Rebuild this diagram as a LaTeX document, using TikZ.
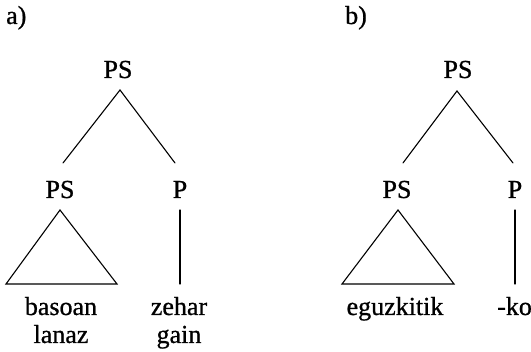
\documentclass[tikz,border=0pt]{standalone}
\usepackage{fontspec}
\setmainfont{Liberation Serif}
\newfontfamily\treefont[FakeBold=0.8]{Liberation Serif}
\begin{document}
\begin{tikzpicture}[x=1pt,y=-1pt,
  lbl/.style={inner sep=0pt,anchor=base,font=\treefont\fontsize{26}{28}\selectfont},
  edge/.style={line width=1.1pt,line cap=round}]
\useasboundingbox (0,0) rectangle (531,352);
% panel labels
\node[lbl,anchor=base west] (la) at (6,24) {a)};
\node[lbl,anchor=base west] (lb) at (345,24) {b)};
% tree a
\node[lbl] (a0) at (118,78) {PS};
\node[lbl] (a1) at (60,198) {PS};
\node[lbl] (a2) at (180,198) {P};
\coordinate (a0s) at (120,90);
\coordinate (a1n) at (63,163);
\coordinate (a2n) at (175,163);
\draw[edge] (a1n) -- (a0s) -- (a2n);
\coordinate (t1a) at (60,210);
\coordinate (t1l) at (6,284);
\coordinate (t1r) at (117,284);
\draw[edge,line join=miter] (t1a) -- (t1l) -- (t1r) -- cycle;
\coordinate (v1t) at (180,210);
\coordinate (v1b) at (180,284);
\draw[edge] (v1t) -- (v1b);
\node[lbl] (w1) at (61,315) {basoan};
\node[lbl] (w2) at (61,343) {lanaz};
\node[lbl] (w3) at (179,315) {zehar};
\node[lbl] (w4) at (179,343) {gain};
% tree b
\node[lbl] (b0) at (458,78) {PS};
\node[lbl] (b1) at (397,198) {PS};
\node[lbl] (b2) at (515,198) {P};
\coordinate (b0s) at (457,91);
\coordinate (b1n) at (403,163);
\coordinate (b2n) at (513,163);
\draw[edge] (b1n) -- (b0s) -- (b2n);
\coordinate (t2a) at (398,210);
\coordinate (t2l) at (342,284);
\coordinate (t2r) at (454,284);
\draw[edge,line join=miter] (t2a) -- (t2l) -- (t2r) -- cycle;
\coordinate (v2t) at (515,210);
\coordinate (v2b) at (515,284);
\draw[edge] (v2t) -- (v2b);
\node[lbl] (w5) at (395,315) {eguzkitik};
\node[lbl,anchor=base west] (w6) at (497,315) {-ko};
\end{tikzpicture}
\end{document}
